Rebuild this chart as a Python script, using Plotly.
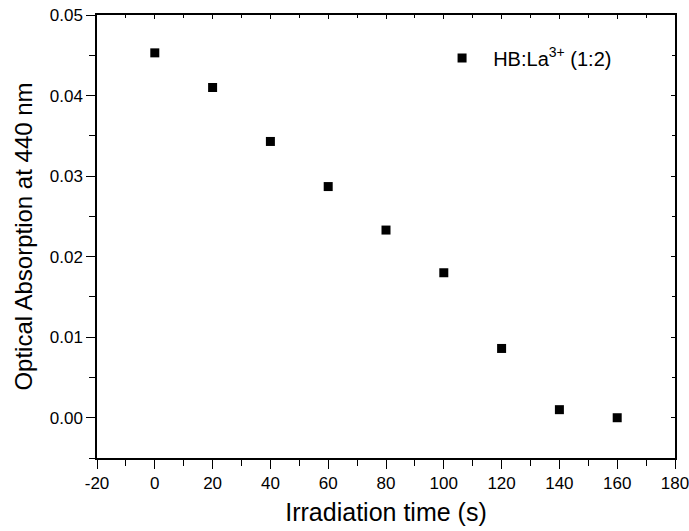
import plotly.graph_objects as go

time_s = [0, 20, 40, 60, 80, 100, 120, 140, 160]
absorption = [0.0453, 0.0410, 0.0343, 0.0287, 0.0233, 0.0180, 0.0086, 0.0010, 0.0000]
series_name = "&nbsp;&nbsp;HB:La<sup>3+</sup> (1:2)"
x_tick_vals = [-20, 0, 20, 40, 60, 80, 100, 120, 140, 160, 180]
x_tick_text = ["-20", "0", "20", "40", "60", "80", "100", "120", "140", "160", "180"]
y_tick_vals = [0.00, 0.01, 0.02, 0.03, 0.04, 0.05]
y_tick_text = ["0.00", "0.01", "0.02", "0.03", "0.04", "0.05"]

fig = go.Figure()
fig.add_trace(go.Scatter(
    x=time_s, y=absorption, mode="markers", name=series_name,
    marker=dict(symbol="square", size=9, color="black"),
))

font = "Liberation Sans, Arial, sans-serif"
axis_common = dict(showline=True, linecolor="black", linewidth=1.5, showgrid=False,
                   zeroline=False, ticks="outside", ticklen=9, tickwidth=1.3,
                   tickcolor="black", ticklabeloverflow="allow",
                   tickfont=dict(family=font, size=17, color="black"))

fig.update_layout(
    width=689, height=531,
    margin=dict(l=97, r=14, t=15, b=73, autoexpand=False),
    paper_bgcolor="white", plot_bgcolor="white",
    font=dict(family=font, color="black"),
    showlegend=True,
    legend=dict(x=0.597, y=0.947, xanchor="left", yanchor="top",
                font=dict(family=font, size=20, color="black"),
                bgcolor="rgba(0,0,0,0)"),
    xaxis=dict(range=[-20, 180], tickmode="array", tickvals=x_tick_vals, ticktext=x_tick_text,
               minor=dict(dtick=10, tick0=0, ticks="outside", ticklen=6, tickcolor="black"),
               title=dict(text="Irradiation time (s)", font=dict(family=font, size=25), standoff=11),
               automargin=False, **axis_common),
    yaxis=dict(range=[-0.005, 0.05], tickmode="array", tickvals=y_tick_vals, ticktext=y_tick_text,
               minor=dict(dtick=0.005, tick0=0, ticks="outside", ticklen=6, tickcolor="black"),
               title=dict(text="Optical Absorption at 440 nm", font=dict(family=font, size=24), standoff=10),
               automargin=False, **axis_common),
    xaxis2=dict(overlaying="x", matches="x", side="top", showline=True, linecolor="black",
                linewidth=1.5, ticks="inside", ticklen=4, tickcolor="black", dtick=20, tick0=0,
                showticklabels=False, showgrid=False, zeroline=False,
                minor=dict(dtick=10, ticks="inside", ticklen=3, tickcolor="black")),
    yaxis2=dict(overlaying="y", matches="y", side="right", showline=True, linecolor="black",
                linewidth=1.5, ticks="inside", ticklen=4, tickcolor="black", dtick=0.01, tick0=0,
                showticklabels=False, showgrid=False, zeroline=False,
                minor=dict(dtick=0.005, ticks="inside", ticklen=3, tickcolor="black")),
)
fig.add_trace(go.Scatter(x=[None], y=[None], xaxis="x2", yaxis="y2", showlegend=False, hoverinfo="skip"))

fig.write_html("out.html", config={"displayModeBar": False},
               post_script="document.body.style.margin='0';document.body.style.overflow='hidden';")
